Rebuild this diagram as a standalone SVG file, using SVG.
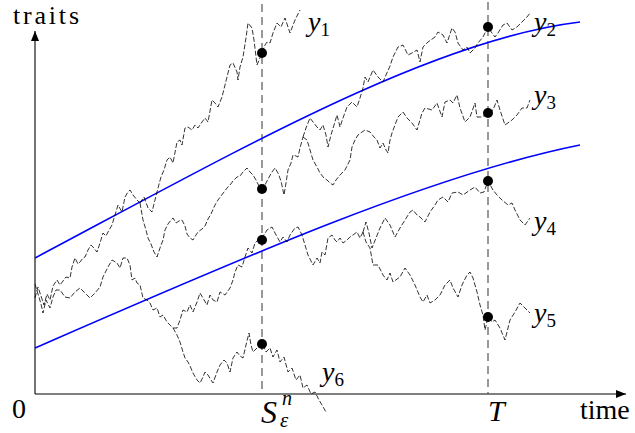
<svg xmlns="http://www.w3.org/2000/svg" width="635" height="433" viewBox="0 0 635 433">
<style>
.walk{fill:none;stroke:#000;stroke-width:0.8;stroke-dasharray:5,2;stroke-linejoin:miter}
.guide{fill:none;stroke:#555;stroke-width:1.2;stroke-dasharray:8,5}
.blue{fill:none;stroke:#0000ff;stroke-width:1.6}
.axis{fill:none;stroke:#000;stroke-width:1.1}
.dot{fill:#000}
</style>
<defs>
<marker id="arr" viewBox="0 0 10 8" refX="10" refY="4" markerWidth="11" markerHeight="8" markerUnits="userSpaceOnUse" orient="auto">
<path d="M0,0 L10,4 L0,8 Z" fill="#000"/>
</marker>
</defs>

<g id="axes">
<line class="axis" x1="35" y1="394" x2="35" y2="31" marker-end="url(#arr)"/>
<line class="axis" x1="35" y1="394" x2="626" y2="394" marker-end="url(#arr)"/>
</g>

<g id="guides">
<line class="guide" x1="262" y1="4" x2="262" y2="394"/>
<line class="guide" x1="488" y1="2" x2="488" y2="394"/>
</g>

<g id="thresholds">
<path class="blue" d="M35,258 C235,152 430,40 580,22"/>
<path class="blue" d="M35,348 C235,260.8 430,175 580,145"/>
</g>

<g id="connectors">
<polyline class="walk" points="35,298 38,287 41,296 44,305 47,294 50,300 53,286 57,280 60,285 63,281 66,277 70,278 72,267 75,258 78,264 80,262 83,258 85,257 88,250 91,245 93,247 97,252 100,243 103,233 106,236 108,232 112,225 115,215 118,205 122,212 125,197 128,192 130,190 133,195 137,200 140,203"/>
<polyline class="walk" points="35,284 38,294 41,304 43,313 46,300 50,308 53,297 56,290 60,290 65,297 70,298 75,292 80,288 85,293 90,298 95,293 100,287 103,277 108,267 112,260 117,263 120,268 123,258 127,258 130,265 132,280 135,278 137,283 140,285 143,298 147,300 150,303 153,310 157,308 160,317 163,315 167,322 170,325 173,328"/>
<polyline class="walk" points="140,203 144,197 148,208 152,212 155,200 158,188 161,177 164,170 167,160 170,157 173,163 177,142 180,140 182,145 185,128 188,127 192,130 195,125 198,128 202,122 205,118 208,122 212,100 215,103 218,107 222,97 225,85 227,77 230,65 233,63 237,72 238,80 240,67 243,57 246,38 248,23 252,28 254,40 257,65 262,53 265,45 267,42 270,43 273,33 277,23 281,27 285,18 290,33 295,20 300,10"/>
<polyline class="walk" points="140,203 143,220 146,230 148,238 151,244 154,252 157,257 160,248 163,240 165,230 168,224 171,220 173,218 176,223 179,221 182,220 185,226 187,234 190,238 193,240 196,235 198,232 202,229 205,226 208,219 211,214 215,205 218,200 221,196 224,192 227,188 230,185 233,181 237,177 240,176 243,172 247,168 250,172 253,175 256,180 259,186 262,189 265,185 268,179 272,172 275,168 278,173 281,181 284,195 286,183 288,170 291,163 293,155 296,156 298,157 300,148 303,137"/>
<polyline class="walk" points="303,137 306,128 310,118 313,122 317,127 320,130 323,125 326,135 328,147 331,135 334,125 337,115 340,127 343,118 347,107 352,102 357,107 360,98 363,88 365,77 368,82 373,70 378,77 383,82 386,75 390,66 393,57 398,47 403,45 408,55 412,53 417,50 420,62 423,47 428,42 435,37 438,32 443,35 447,43 452,28 455,32 458,43 463,50 467,47 470,53 475,48 478,43 483,37 488,27 492,33 495,37 498,33 503,25 507,23 512,30 517,27 522,22 527,17 530,13"/>
<polyline class="walk" points="303,137 307,140 310,150 313,160 317,167 320,173 324,178 327,180 330,183 333,185 336,180 340,175 345,170 350,160 352,147 355,140 358,135 362,132 365,130 370,132 374,137 377,140 380,148 383,143 386,150 388,153 390,140 392,133 395,125 398,117 403,112 407,118 412,123 417,130 422,113 425,108 432,110 437,103 442,117 445,102 450,100 453,103 457,95 460,108 465,122 470,117 475,103 477,117 482,117 488,113 493,110 497,100 500,110 505,125 512,120 517,115 522,108 527,108 530,100"/>
<polyline class="walk" points="173,328 177,328 180,320 183,310 187,312 190,305 193,312 197,302 200,293 203,298 207,305 210,295 213,300 217,302 220,292 225,295 230,288 233,280 235,272 238,265 242,267 245,257 248,248 252,253 255,243 258,240 262,238 267,230 272,227 275,233 280,242 283,237 287,242 290,235 295,228 298,227 302,235 305,245 308,255 313,265 317,258 320,263 322,252 325,255 328,238 332,235 335,240 337,242 340,238 343,243 347,240 350,237 353,235 357,232 360,238 363,232"/>
<polyline class="walk" points="363,232 366,222 369,233 372,248 376,238 380,228 385,218 390,225 395,237 400,228 405,220 410,212 413,210 417,215 420,217 425,222 430,212 435,205 438,200 443,197 448,202 452,193 458,192 463,195 470,190 475,187 480,193 484,192 488,181 493,190 497,195 502,200 508,205 512,203 515,210 520,220 525,225 530,218"/>
<polyline class="walk" points="363,232 366,242 370,248 373,265 378,265 383,275 387,280 390,273 393,282 400,277 405,268 410,275 415,285 420,297 423,302 427,295 430,303 435,300 440,295 445,285 450,280 453,288 458,297 462,285 467,275 470,272 473,278 477,292 480,305 483,315 485,330 488,317 492,322 495,320 500,328 505,340 510,320 515,312 520,303 525,308 530,313"/>
<polyline class="walk" points="173,328 177,335 180,342 183,352 185,358 188,362 190,366 193,373 197,380 200,383 203,377 205,372 208,375 211,380 213,383 217,372 220,365 224,360 227,363 230,372 233,358 237,352 240,356 243,358 246,345 249,333 251,345 253,352 257,348 262,343 266,352 270,348 273,357 277,350 280,362 284,357 288,372 292,368 296,380 300,375 303,388 307,385 311,394 315,392 319,400 322,405 326,412"/>
</g>

<g id="dots">
<circle class="dot" cx="262" cy="53" r="5"/>
<circle class="dot" cx="262" cy="189" r="5"/>
<circle class="dot" cx="262" cy="240" r="5"/>
<circle class="dot" cx="262" cy="344" r="5"/>
<circle class="dot" cx="488" cy="27" r="5"/>
<circle class="dot" cx="488" cy="113" r="5"/>
<circle class="dot" cx="488" cy="181" r="5"/>
<circle class="dot" cx="488" cy="317" r="5"/>
</g>

<g id="labels" font-family="Liberation Serif, serif" fill="#000">
<text x="13" y="24" font-size="26" textLength="66">traits</text>
<text x="12" y="418" font-size="28">0</text>
<text x="580" y="419" font-size="28">time</text>
<g font-style="italic" font-size="28">
<text x="308" y="31">y<tspan font-style="normal" font-size="19" dy="5">1</tspan></text>
<text x="534" y="31">y<tspan font-style="normal" font-size="19" dy="5">2</tspan></text>
<text x="534" y="104">y<tspan font-style="normal" font-size="19" dy="5">3</tspan></text>
<text x="534" y="230">y<tspan font-style="normal" font-size="19" dy="5">4</tspan></text>
<text x="534" y="322">y<tspan font-style="normal" font-size="19" dy="5">5</tspan></text>
<text x="322" y="381">y<tspan font-style="normal" font-size="19" dy="5">6</tspan></text>
<text x="488" y="421" font-size="30">T</text>
<text x="261" y="423" font-size="32">S</text>
<text x="282" y="405" font-size="20">n</text>
<text x="280" y="427" font-size="21">ε</text>
</g>
</g>
</svg>
